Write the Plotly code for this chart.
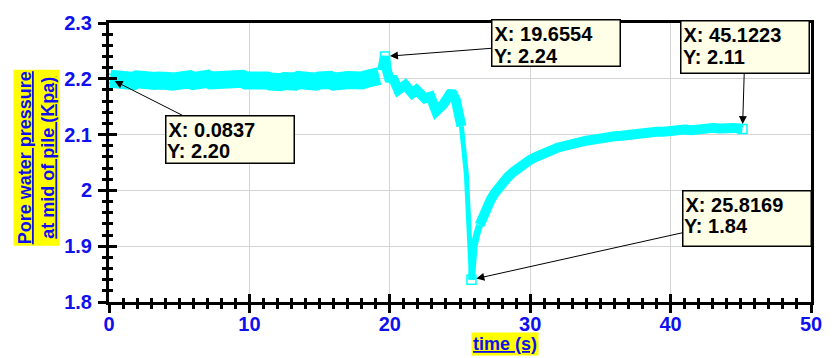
import plotly.graph_objects as go

# Pore water pressure record at mid of pile
time_s = [
    0.0837, 0.25, 0.5, 0.75, 1.0, 1.25, 1.5, 1.75, 2.0, 2.25, 2.5, 2.75, 3.0,
    3.25, 3.5, 3.75, 4.0, 4.25, 4.5, 4.75, 5.0, 5.25, 5.5, 5.75, 6.0, 6.25, 6.5,
    6.75, 7.0, 7.25, 7.5, 7.75, 8.0, 8.25, 8.5, 8.75, 9.0, 9.25, 9.5, 9.75, 10.0,
    10.25, 10.5, 10.75, 11.0, 11.25, 11.5, 11.75, 12.0, 12.25, 12.5, 12.75, 13.0,
    13.25, 13.5, 13.75, 14.0, 14.25, 14.5, 14.75, 15.0, 15.25, 15.5, 15.75, 16.0,
    16.25, 16.5, 16.75, 17.0, 17.25, 17.5, 17.75, 18.0, 18.25, 18.5, 18.75, 19.0,
    19.25, 19.45, 19.6554,
    19.8, 20.0, 20.2, 20.6, 21.1, 21.6, 21.9, 22.5, 22.9, 23.3, 23.8, 24.2, 24.4,
    24.7, 24.9, 25.1, 25.2, 25.35, 25.45, 25.55, 25.67, 25.75, 25.8169,
    25.9, 26.0, 26.2, 26.4, 26.6, 26.8, 27.0, 27.2, 27.5, 27.8, 28.1, 28.4, 28.8,
    29.2, 29.6, 30.0, 30.5, 31.0, 31.5, 32.0, 32.5, 33.0, 33.5, 34.0, 34.5, 35.0,
    35.5, 36.0, 36.5, 37.0, 37.5, 38.0, 38.5, 39.0, 39.5, 40.0, 40.5, 41.0, 41.5,
    42.0, 42.5, 43.0, 43.5, 44.0, 44.5, 45.1223,
]
pressure_kpa = [
    2.200, 2.199, 2.196, 2.198, 2.197, 2.194, 2.197, 2.196, 2.199, 2.197, 2.195,
    2.196, 2.199, 2.196, 2.197, 2.194, 2.193, 2.196, 2.195, 2.197, 2.194, 2.197,
    2.196, 2.199, 2.196, 2.198, 2.195, 2.197, 2.200, 2.197, 2.198, 2.196, 2.197,
    2.194, 2.196, 2.199, 2.196, 2.197, 2.200, 2.197, 2.198, 2.196, 2.193, 2.196,
    2.195, 2.197, 2.195, 2.193, 2.196, 2.194, 2.196, 2.194, 2.197, 2.195, 2.198,
    2.196, 2.198, 2.195, 2.197, 2.195, 2.197, 2.199, 2.196, 2.198, 2.195, 2.198,
    2.200, 2.197, 2.198, 2.196, 2.198, 2.200, 2.197, 2.199, 2.201, 2.198, 2.201,
    2.205, 2.215, 2.240,
    2.215, 2.196, 2.203, 2.180, 2.189, 2.174, 2.180, 2.165, 2.168, 2.142, 2.154,
    2.170, 2.177, 2.162, 2.140, 2.115, 2.095, 2.060, 2.030, 1.980, 1.920, 1.875,
    1.840,
    1.875, 1.900, 1.922, 1.938, 1.952, 1.964, 1.975, 1.984, 1.996, 2.007, 2.016,
    2.024, 2.033, 2.041, 2.048, 2.055, 2.061, 2.067, 2.072, 2.077, 2.080, 2.084,
    2.086, 2.089, 2.091, 2.094, 2.095, 2.097, 2.098, 2.100, 2.101, 2.103, 2.103,
    2.105, 2.105, 2.107, 2.107, 2.109, 2.108, 2.110, 2.110, 2.112, 2.111, 2.113,
    2.112, 2.110,
]

# Test phases (start/end time) and the trace width used for each
phase_edges = [0.0, 19.3, 25.1, 25.8169, 26.4, 46.0]
phase_widths = [18, 10, 5, 7, 10]

# Data tips: point coordinates and where each tip box sits (data units)
tip_x = [0.0837, 19.6554, 45.1223, 25.8169]
tip_y = [2.20, 2.24, 2.11, 1.84]
tip_box_x = [8.59, 31.84, 45.30, 45.41]
tip_box_y = [2.0917, 2.2636, 2.2566, 1.9497]
tip_box_h = [42, 41, 47, 50]   # inner box heights, px

BOX_W = 123                    # inner box width, px
BOX_PAD, BOX_BORDER = 2, 1.5

x_ticks = [0, 10, 20, 30, 40, 50]
y_ticks = [1.8, 1.9, 2.0, 2.1, 2.2, 2.3]

BLUE = "#1010EE"
CYAN = "#00FFFF"
FONT = "Liberation Sans"

fig = go.Figure()
for (t0, t1), w in zip(zip(phase_edges[:-1], phase_edges[1:]), phase_widths):
    idx = [i for i, t in enumerate(time_s) if t0 <= t <= t1]
    fig.add_trace(go.Scatter(
        x=[time_s[i] for i in idx], y=[pressure_kpa[i] for i in idx], mode="lines",
        line=dict(color=CYAN, width=w), showlegend=False, hoverinfo="skip",
    ))
fig.add_trace(go.Scatter(
    x=tip_x, y=tip_y, mode="markers",
    marker=dict(symbol="square-open", size=9, color=CYAN, line=dict(width=1.5, color=CYAN)),
    showlegend=False,
))
# companion axes carrying the inward half of the tick marks
fig.add_trace(go.Scatter(x=[], y=[], xaxis="x2", yaxis="y2", showlegend=False))

tick_font = dict(family=FONT, size=20, color=BLUE, weight="bold")

fig.update_layout(
    width=834, height=358,
    margin=dict(l=109, r=12, t=14, b=56),
    paper_bgcolor="white", plot_bgcolor="white",
    xaxis=dict(
        range=[0, 50], tickvals=x_ticks, ticks="outside", ticklen=8, tickwidth=3,
        tickcolor="black", showline=True, linecolor="black", linewidth=3, mirror=True,
        showgrid=True, gridcolor="#d4d4d4", gridwidth=1, zeroline=False,
        tickfont=tick_font, ticklabelstandoff=-6,
        minor=dict(dtick=1, ticks="outside", ticklen=4, tickwidth=3, tickcolor="black",
                   showgrid=False),
    ),
    yaxis=dict(
        range=[1.8, 2.3], tickvals=y_ticks, ticks="outside", ticklen=8, tickwidth=3,
        tickcolor="black", showline=True, linecolor="black", linewidth=3, mirror=True,
        showgrid=True, gridcolor="#d4d4d4", gridwidth=1, zeroline=False,
        tickfont=tick_font, ticklabelstandoff=2,
        minor=dict(dtick=0.02, ticks="outside", ticklen=4, tickwidth=3, tickcolor="black",
                   showgrid=False),
    ),
    xaxis2=dict(
        overlaying="x", anchor="y2", side="bottom", range=[0, 50], tickvals=x_ticks,
        ticks="inside", ticklen=8, tickwidth=3, tickcolor="black",
        showticklabels=False, showgrid=False, zeroline=False, showline=False,
        minor=dict(dtick=1, ticks="inside", ticklen=4, tickwidth=3, tickcolor="black"),
    ),
    yaxis2=dict(
        overlaying="y", anchor="x2", side="left", range=[1.8, 2.3], tickvals=y_ticks,
        ticks="inside", ticklen=8, tickwidth=3, tickcolor="black",
        showticklabels=False, showgrid=False, zeroline=False, showline=False,
        minor=dict(dtick=0.02, ticks="inside", ticklen=4, tickwidth=3, tickcolor="black"),
    ),
)

# data tip boxes: the box (with arrow) carries the X line, the Y line sits inside it
tip_font = dict(family=FONT, size=20, color="black", weight="bold")
half_w = BOX_W / 2 + BOX_PAD + BOX_BORDER
for px_, py_, bx, by, bh in zip(tip_x, tip_y, tip_box_x, tip_box_y, tip_box_h):
    fig.add_annotation(
        x=px_, y=py_, ax=bx, ay=by, xref="x", yref="y", axref="x", ayref="y",
        text=f"X: {px_:g}", align="left", valign="top",
        width=BOX_W, height=bh, font=tip_font,
        bgcolor="#FFFFE8", bordercolor="black", borderwidth=BOX_BORDER, borderpad=BOX_PAD,
        showarrow=True, arrowhead=2, arrowsize=1.6, arrowwidth=1, arrowcolor="black",
        standoff=5,
    )
    total_h = bh + 2 * (BOX_PAD + BOX_BORDER)
    fig.add_annotation(
        x=bx, y=by, xref="x", yref="y", xanchor="left", yanchor="middle",
        xshift=-half_w + 0.5, yshift=-(36.5 - total_h / 2),
        text=f"Y: {py_:.2f}", showarrow=False, font=tip_font,
    )

ul = "text-decoration:underline"
fig.add_annotation(
    x=(511 - 109) / 713, y=(302 - 345) / 288, xref="paper", yref="paper",
    xanchor="center", yanchor="middle",
    text=f"<span style='{ul}'>time (s)</span>", showarrow=False,
    font=dict(family=FONT, size=18, color=BLUE, weight="bold"),
    bgcolor="yellow", borderpad=1,
)
fig.add_annotation(
    x=(35 - 109) / 713, y=(302 - 153.5) / 288, xref="paper", yref="paper",
    xanchor="center", yanchor="middle", textangle=-90,
    text=f"<span style='{ul}'>Pore water pressure</span><br>"
         f"<span style='{ul}'>at mid of pile (Kpa)</span>",
    showarrow=False, align="center",
    font=dict(family=FONT, size=18, color=BLUE, weight="bold"),
    bgcolor="yellow", borderpad=1,
)

fig.write_html("out.html")
